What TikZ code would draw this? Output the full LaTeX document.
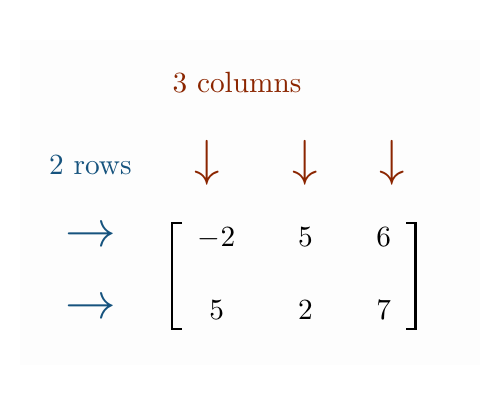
\documentclass[tikz,border=0pt]{standalone}
\usepackage{amsmath,amssymb}
\usepackage{tikz}
\usetikzlibrary{positioning}
\usepackage{xcolor}
\definecolor{colred}{RGB}{139,37,0}
\definecolor{rowblue}{RGB}{22,83,126}

\tikzset{
  collabel/.style={text=colred, inner sep=0pt, anchor=base},
  rowlabel/.style={text=rowblue, inner sep=0pt, anchor=base},
  colarrow/.style={text=colred, inner sep=0pt, font=\LARGE},
  rowarrow/.style={text=rowblue, inner sep=0pt, font=\LARGE},
  entry/.style={inner sep=0pt, anchor=base},
  bracket/.style={line width=0.8pt}
}

\begin{document}
\begin{tikzpicture}
  \useasboundingbox (0,0) rectangle (6,-4.8);
  \fill[black!0.7] (0.24,-0.48) rectangle (5.76,-4.38);

  % Labels
  \node[collabel] (cols) at (2.844,-1.116) {3 columns};
  \node[rowlabel] (rows) at (1.085,-2.1) {2 rows};

  % Column arrows
  \node[colarrow] (down1) at (2.488,-1.956) {$\downarrow$};
  \node[colarrow] (down2) at (3.664,-1.956) {$\downarrow$};
  \node[colarrow] (down3) at (4.704,-1.956) {$\downarrow$};

  % Row arrows
  \node[rowarrow] (right1) at (1.086,-2.850) {$\rightarrow$};
  \node[rowarrow] (right2) at (1.086,-3.710) {$\rightarrow$};

  % Matrix entries
  \node[entry] (a11) at (2.600,-2.964) {$-2$};
  \node[entry] (a12) at (3.666,-2.964) {$5$};
  \node[entry] (a13) at (4.604,-2.964) {$6$};
  \node[entry] (a21) at (2.600,-3.840) {$5$};
  \node[entry] (a22) at (3.666,-3.840) {$2$};
  \node[entry] (a23) at (4.604,-3.840) {$7$};

  % Brackets
  \draw[bracket] (2.184,-2.676) -- (2.064,-2.676) -- (2.064,-3.948) -- (2.184,-3.948);
  \draw[bracket] (4.872,-2.676) -- (4.988,-2.676) -- (4.988,-3.948) -- (4.872,-3.948);
\end{tikzpicture}
\end{document}
